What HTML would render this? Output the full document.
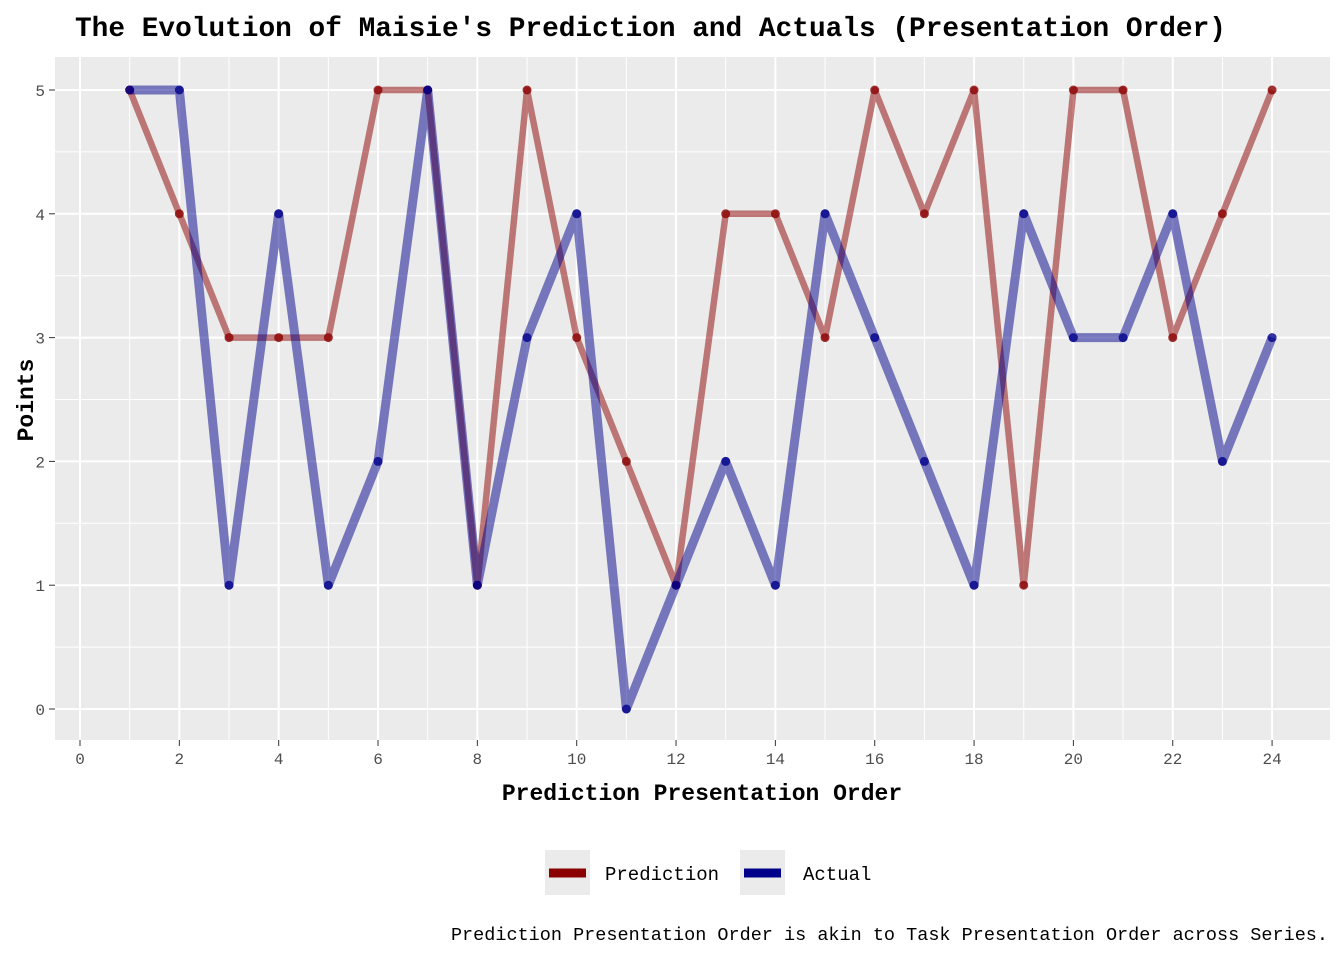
<!DOCTYPE html>
<html><head><meta charset="utf-8"><style>
body{margin:0;background:#fff;}
svg text{font-family:"Liberation Mono",monospace;}
</style></head><body>
<svg id="chart" width="1344" height="960" xmlns="http://www.w3.org/2000/svg">
<text x="75" y="36" font-size="27.8" font-weight="bold" fill="#000">The Evolution of Maisie's Prediction and Actuals (Presentation Order)</text>
<rect x="55" y="57" width="1275" height="683" fill="#ebebeb"/>
<g id="grid"></g>
<g id="series"></g>
<g id="axes"></g>
<text x="702" y="800" font-size="23" font-weight="bold" text-anchor="middle">Prediction Presentation Order</text>
<text transform="translate(33,400) rotate(-90)" font-size="23" font-weight="bold" text-anchor="middle">Points</text>
<g>
<rect x="545" y="850" width="45" height="45" fill="#ebebeb"/>
<line x1="549" y1="873" x2="586" y2="873" stroke="#8b0000" stroke-width="9"/>
<text x="605" y="880" font-size="19">Prediction</text>
<rect x="740" y="850" width="45" height="45" fill="#ebebeb"/>
<line x1="744" y1="873" x2="781" y2="873" stroke="#00008b" stroke-width="9"/>
<text x="803" y="880" font-size="19">Actual</text>
</g>
<text x="1328" y="940" font-size="18.5" text-anchor="end">Prediction Presentation Order is akin to Task Presentation Order across Series.</text>
</svg>
<script>
const orders=[1,2,3,4,5,6,7,8,9,10,11,12,13,14,15,16,17,18,19,20,21,22,23,24];
const prediction=[5,4,3,3,3,5,5,1,5,3,2,1,4,4,3,5,4,5,1,5,5,3,4,5];
const actual=[5,5,1,4,1,2,5,1,3,4,0,1,2,1,4,3,2,1,4,3,3,4,2,3];
const xTicks=[0,2,4,6,8,10,12,14,16,18,20,22,24];
const yTicks=[0,1,2,3,4,5];
const X=v=>80+v*49.67, Y=v=>709-v*123.8;
const NS="http://www.w3.org/2000/svg";
function mk(p,t,a){const e=document.createElementNS(NS,t);for(const k in a)e.setAttribute(k,a[k]);p.appendChild(e);return e;}
const grid=document.getElementById('grid'),axes=document.getElementById('axes'),ser=document.getElementById('series');
for(let v=1;v<25;v+=2){const l=mk(grid,'line',{x1:X(v),x2:X(v),y1:57,y2:740,stroke:'#fff','stroke-width':1});

}
for(let v=0.5;v<5.5;v+=1){const l=mk(grid,'line',{x1:55,x2:1330,y1:Y(v),y2:Y(v),stroke:'#fff','stroke-width':1});

}
xTicks.forEach(v=>{const l=mk(grid,'line',{x1:X(v),x2:X(v),y1:57,y2:740,stroke:'#fff','stroke-width':2});


const t=mk(axes,'line',{x1:X(v),x2:X(v),y1:740,y2:746,stroke:'#333','stroke-width':1});


const tx=mk(axes,'text',{x:X(v),y:764,'font-size':16,'text-anchor':'middle',fill:'#4d4d4d'});tx.textContent=v;

});
yTicks.forEach(v=>{const l=mk(grid,'line',{x1:55,x2:1330,y1:Y(v),y2:Y(v),stroke:'#fff','stroke-width':2});


const t=mk(axes,'line',{x1:49,x2:55,y1:Y(v),y2:Y(v),stroke:'#333','stroke-width':1});


const tx=mk(axes,'text',{x:45,y:Y(v)+6,'font-size':16,'text-anchor':'end',fill:'#4d4d4d'});tx.textContent=v;

});
function series(vals,col,lineCol,w,name){
const pts=orders.map((o,i)=>X(o)+','+Y(vals[i])).join(' ');
const pl=mk(ser,'polyline',{points:pts,fill:'none',stroke:lineCol,'stroke-width':w,'stroke-linejoin':'round'});


orders.forEach((o,i)=>{const c=mk(ser,'circle',{cx:X(o),cy:Y(vals[i]),r:4.5,fill:col,'fill-opacity':0.8});

});}
series(prediction,'#8b0000','rgba(139,0,0,0.5)',6.5,'prediction');
series(actual,'#00008b','rgba(0,0,139,0.5)',9,'actual');
</script>
</body></html>
